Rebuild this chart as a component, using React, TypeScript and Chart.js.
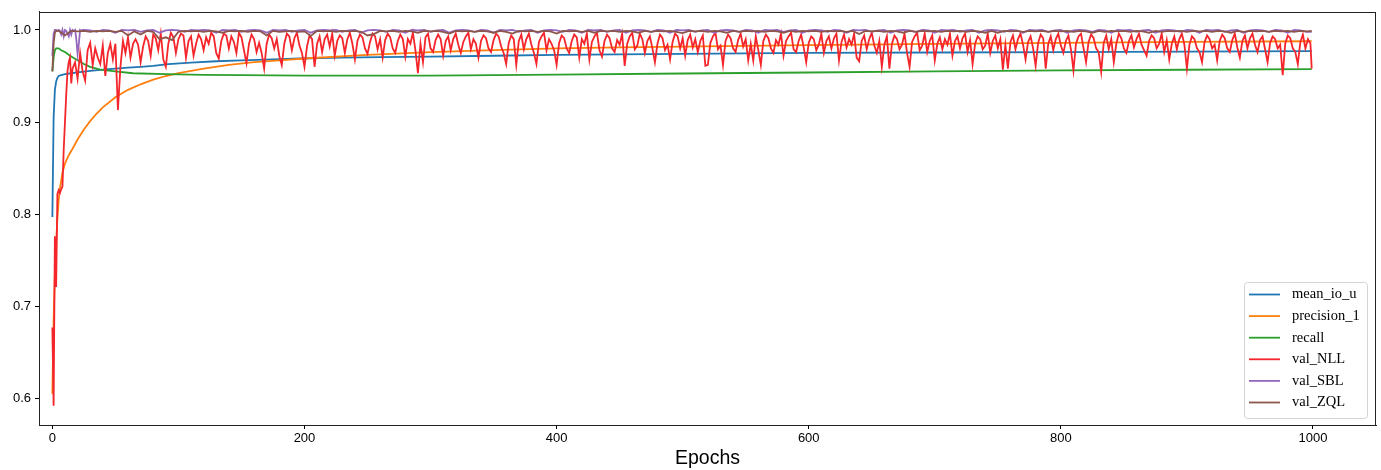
import { useEffect, useRef } from 'react';
import { Chart, registerables } from 'chart.js';

Chart.register(...registerables);

// ---------- labels / ticks ----------
const seriesNames = ['mean_io_u', 'precision_1', 'recall', 'val_NLL', 'val_SBL', 'val_ZQL'];
const seriesColors = ['#1f77b4', '#ff7f0e', '#2ca02c', '#f4262b', '#9467bd', '#8c564b'];
const xTicks = [0, 200, 400, 600, 800, 1000];
const yTicks = [0.6, 0.7, 0.8, 0.9, 1.0];
const xTitle = 'Epochs';

// ---------- mean_io_u ----------
const iouEpochs = [0, 1, 2, 3, 4, 5, 7, 10, 15, 20, 30, 40, 50, 60, 70, 80, 92, 110, 130, 150, 175, 196, 230, 260, 300, 350, 400, 450, 500, 550, 600, 700, 800, 900, 999];
const iouValues = [0.797, 0.905, 0.935, 0.944, 0.948, 0.950, 0.951, 0.952, 0.953, 0.954, 0.9555, 0.957, 0.958, 0.959, 0.960, 0.961, 0.963, 0.9645, 0.966, 0.967, 0.968, 0.969, 0.970, 0.9705, 0.971, 0.972, 0.973, 0.9735, 0.974, 0.9745, 0.975, 0.9755, 0.976, 0.9765, 0.977];

// ---------- precision_1 ----------
const precEpochs = [0, 1, 2, 3, 4, 5, 6, 8, 10, 13, 16, 20, 25, 30, 35, 40, 50, 60, 70, 80, 90, 100, 120, 140, 160, 180, 200, 250, 300, 350, 400, 450, 500, 600, 700, 800, 900, 999];
const precValues = [0.605, 0.685, 0.735, 0.77, 0.795, 0.815, 0.828, 0.845, 0.855, 0.864, 0.871, 0.881, 0.892, 0.901, 0.909, 0.916, 0.927, 0.935, 0.941, 0.946, 0.950, 0.953, 0.958, 0.962, 0.965, 0.967, 0.969, 0.973, 0.976, 0.978, 0.980, 0.981, 0.982, 0.9835, 0.9848, 0.986, 0.987, 0.9877];

// ---------- recall ----------
const recallEpochs = [0, 1, 2, 3, 5, 7, 10, 14, 20, 25, 30, 38, 50, 64, 90, 120, 150, 200, 250, 300, 400, 500, 600, 700, 800, 900, 999];
const recallValues = [0.955, 0.970, 0.978, 0.980, 0.980, 0.978, 0.976, 0.972, 0.967, 0.963, 0.960, 0.957, 0.955, 0.953, 0.952, 0.9513, 0.951, 0.9505, 0.9503, 0.9505, 0.9515, 0.9527, 0.9538, 0.955, 0.956, 0.9568, 0.9575];

// ---------- val_NLL ----------
const nllEarlyEpochs = [0, 1, 2, 3, 4, 5, 6, 7, 8, 9, 10, 11, 12, 13, 14, 15];
const nllEarly = [0.677, 0.592, 0.776, 0.721, 0.822, 0.826, 0.823, 0.827, 0.83, 0.87, 0.90, 0.93, 0.955, 0.965, 0.970, 0.942];
const nllStart = 16;
const nllStep = 2;
const nllValues = [
  .958, .965, .947, .975, .955, .945, .978, .986, .962, .980, .970, .963, .983, .950, .975, .985, .968, .985, .913, .960, .988, .975, .992, .970, .985,
  .990, .984, .965, .982, .993, .988, .972, .995, .991, .978, .996, .968, .960, .985, .997, .992, .975, .990, .996, .994, .970, .988, .993, .972, .985,
  .995, .990, .978, .992, .985, .997, .993, .975, .969, .988, .996, .994, .980, .993, .987, .975, .997, .992, .978, .964, .985, .995, .990, .976, .986,
  .975, .958, .985, .995, .991, .980, .990, .972, .962, .985, .996, .993, .978, .991, .997, .983, .975, .960, .982, .994, .990, .960, .985, .993, .976,
  .990, .995, .982, .996, .972, .988, .994, .991, .975, .990, .997, .985, .968, .988, .995, .992, .980, .974, .987, .996, .993, .979, .990, .970, .989,
  .996, .992, .980, .975, .988, .995, .990, .971, .990, .985, .997, .978, .953, .985, .965, .992, .996, .980, .976, .989, .995, .990, .972, .988, .993,
  .978, .990, .996, .984, .975, .987, .993, .997, .979, .990, .985, .970, .988, .994, .991, .980, .976, .989, .996, .993, .982, .975, .963, .986, .994,
  .990, .962, .988, .995, .979, .990, .996, .984, .975, .963, .987, .993, .997, .978, .990, .985, .978, .962, .986, .994, .991, .980, .975, .988, .995,
  .992, .970, .990, .985, .996, .968, .987, .993, .997, .978, .971, .988, .995, .991, .980, .976, .989, .984, .996, .961, .985, .993, .997, .979, .983,
  .996, .990, .975, .988, .993, .980, .965, .985, .995, .991, .978, .984, .968, .987, .996, .993, .980, .991, .972, .989, .995, .981, .990, .976, .988,
  .994, .961, .962, .986, .993, .997, .979, .983, .962, .988, .995, .991, .980, .976, .989, .996, .982, .990, .967, .985, .967, .993, .978, .962, .988,
  .995, .991, .980, .975, .989, .984, .996, .972, .988, .993, .997, .979, .976, .988, .995, .981, .965, .986, .993, .990, .978, .984, .996, .975, .988,
  .993, .980, .991, .996, .967, .987, .995, .981, .990, .984, .996, .970, .966, .988, .994, .979, .990, .997, .983, .975, .988, .960, .984, .993, .958,
  .985, .994, .990, .979, .984, .996, .975, .960, .987, .993, .997, .978, .983, .996, .976, .988, .994, .967, .985, .992, .979, .990, .984, .996, .972,
  .988, .993, .980, .991, .996, .976, .989, .963, .985, .993, .990, .979, .983, .996, .975, .988, .994, .980, .990, .957, .984, .958, .987, .994, .979,
  .990, .996, .984, .968, .987, .993, .980, .961, .986, .995, .991, .958, .985, .993, .978, .990, .996, .983, .975, .988, .994, .979, .956, .985, .993,
  .996, .980, .965, .987, .995, .991, .980, .976, .9545, .986, .994, .979, .990, .965, .985, .996, .991, .980, .975, .988, .994, .981, .990, .996, .984,
  .978, .972, .988, .994, .991, .980, .985, .996, .976, .989, .968, .985, .993, .979, .990, .996, .984, .958, .984, .993, .990, .980, .976, .965, .987,
  .994, .990, .980, .984, .967, .988, .995, .991, .980, .976, .989, .996, .981, .970, .988, .994, .980, .991, .996, .984, .976, .989, .993, .979, .965,
  .986, .993, .990, .980, .984, .951, .985, .994, .991, .980, .976, .963, .987, .995, .980, .990, .985,
];
const nllFinalEpoch = 999;
const nllFinal = 0.958;

// ---------- val_SBL ----------
const sblEarlyEpochs = [0, 1, 2, 3, 4, 5, 6, 7, 8, 9, 10, 11, 12, 13, 14, 15, 16, 17, 18, 19, 20, 21, 22, 23, 24];
const sblEarly = [0.972, 0.996, 1.0, 1.0, 0.999, 1.0, 0.999, 0.995, 1.0, 0.993, 1.0, 0.999, 0.996, 0.993, 1.0, 0.995, 1.0, 0.999, 1.0, 0.99, 0.974, 0.985, 1.0, 0.999, 1.0];
const sblStart = 25;
const sblStep = 5;
const sblValues = [
  1.0, .9995, .998, 1.0, .9995, .997, 1.0, .9995, 1.0, .998, .9995, 1.0, .997, .9995, 1.0, .9995, .998, 1.0, .9995, 1.0,
  .9995, .997, 1.0, .9995, 1.0, .998, .9995, 1.0, .9995, .997, 1.0, .9995, 1.0, .998, .9995, 1.0, .997, .9995, 1.0, .9995,
  1.0, .998, .9995, 1.0, .997, .9995, 1.0, .9995, .998, 1.0, .9995, .997, 1.0, .9995, 1.0, .998, .9995, 1.0, .997, .9995,
  1.0, .9995, .998, 1.0, .9995, .997, 1.0, .9995, 1.0, .998, .9995, 1.0, .997, .9995, 1.0, .9995, .998, 1.0, .9995, .997,
  1.0, .9995, 1.0, .998, .9995, 1.0, .997, .9995, 1.0, .9995, .998, 1.0, .9995, .997, 1.0, .9995, 1.0, .998, .9995, 1.0,
  .997, .9995, 1.0, .9995, .998, 1.0, .9995, .997, 1.0, .9995, 1.0, .998, .9995, 1.0, .997, .9995, 1.0, .9995, .998, 1.0,
  .9995, .997, 1.0, .9995, 1.0, .998, .9995, 1.0, .997, .9995, 1.0, .9995, .998, 1.0, .9995, .997, 1.0, .9995, 1.0, .998,
  .9995, 1.0, .997, .9995, 1.0, .9995, .998, 1.0, .9995, .997, 1.0, .9995, 1.0, .998, .9995, 1.0, .997, .9995, 1.0, .9995,
  .998, 1.0, .9995, .997, 1.0, .9995, 1.0, .998, .9995, 1.0, .997, .9995, 1.0, .9995, .998, 1.0, .9995, .997, 1.0, .9995,
  1.0, .998, .9995, 1.0, .997, .9995, 1.0, .9995, .998, 1.0, .9995, .997, 1.0, .9995, .998,
];
const sblFinalEpoch = 999;
const sblFinal = 0.998;

// ---------- val_ZQL ----------
const zqlEarlyEpochs = [0, 1, 2, 3];
const zqlEarly = [0.955, 0.985, 0.997, 0.999];
const zqlStart = 5;
const zqlStep = 5;
const zqlValues = [
  .999, .994, .999, .9985, .999, .998, .999, .9985, .999, .998, .999, .994, .9985, .995, .999, .998, .990, .992, .989, .998,
  .999, .9985, .999, .998, .999, .9985, .997, .999, .9985, .999, .998, .999, .9985, .994, .999, .998, .9985, .999, .998, .9985,
  .9935, .999, .9985, .999, .998, .999, .9985, .999, .998, .994, .9955, .999, .9985, .999, .998, .999, .9985, .997, .999, .9985,
  .999, .998, .996, .999, .9985, .999, .998, .999, .9985, .997, .999, .998, .996, .999, .9985, .999, .998, .999, .9985, .996,
  .999, .9985, .999, .998, .999, .997, .999, .9985, .999, .998, .999, .9985, .997, .999, .998, .999, .9985, .999, .998, .9965,
  .999, .9985, .999, .998, .999, .9985, .997, .999, .998, .999, .9985, .999, .998, .999, .9985, .997, .999, .998, .999, .9985,
  .999, .998, .999, .9985, .999, .998, .999, .9955, .999, .9985, .999, .998, .999, .9985, .997, .999, .998, .999, .9985, .999,
  .998, .999, .9985, .999, .998, .999, .9985, .997, .999, .997, .999, .9985, .999, .998, .999, .9985, .999, .998, .999, .9985,
  .999, .998, .999, .9985, .997, .999, .998, .999, .9985, .999, .998, .999, .9985, .997, .999, .998, .999, .9985, .999, .998,
  .999, .9985, .999, .998, .999, .9985, .997, .999, .998, .999, .9985, .999, .998, .999, .9985, .999, .998, .999, .9985,
];
const zqlFinalEpoch = 999;
const zqlFinal = 0.999;

// ---------- helpers ----------
const stepped = (start: number, step: number, n: number) => Array.from({ length: n }, (_, i) => start + i * step);
const pair = (xs: number[], ys: number[]) => xs.map((x, i) => ({ x, y: ys[i] }));

const seriesPoints = [
  pair(iouEpochs, iouValues),
  pair(precEpochs, precValues),
  pair(recallEpochs, recallValues),
  pair([...nllEarlyEpochs, ...stepped(nllStart, nllStep, nllValues.length), nllFinalEpoch], [...nllEarly, ...nllValues, nllFinal]),
  pair([...sblEarlyEpochs, ...stepped(sblStart, sblStep, sblValues.length), sblFinalEpoch], [...sblEarly, ...sblValues, sblFinal]),
  pair([...zqlEarlyEpochs, ...stepped(zqlStart, zqlStep, zqlValues.length), zqlFinalEpoch], [...zqlEarly, ...zqlValues, zqlFinal]),
];

const framePlugin = {
  id: 'frame',
  afterDatasetsDraw(chart: any) {
    const { ctx, chartArea } = chart;
    ctx.save();
    ctx.strokeStyle = '#222';
    ctx.lineWidth = 1;
    const l = Math.round(chartArea.left) + 0.5;
    const t = Math.round(chartArea.top) + 0.5;
    const r = Math.round(chartArea.right) - 0.5;
    const b = Math.round(chartArea.bottom) + 0.5;
    ctx.strokeRect(l, t, r - l, b - t);
    ctx.restore();
  },
};

const legendPlugin = {
  id: 'boxLegend',
  afterDraw(chart: any) {
    const { ctx, chartArea } = chart;
    const w = 123;
    const h = 136;
    const x = chartArea.right - 9 - w;
    const y = chartArea.bottom - 7 - h;
    ctx.save();
    ctx.beginPath();
    if (ctx.roundRect) ctx.roundRect(x + 0.5, y + 0.5, w, h, 3);
    else ctx.rect(x + 0.5, y + 0.5, w, h);
    ctx.fillStyle = 'rgba(255,255,255,0.8)';
    ctx.fill();
    ctx.strokeStyle = '#d4d4d4';
    ctx.lineWidth = 1;
    ctx.stroke();
    chart.data.datasets.forEach((ds: any, i: number) => {
      const cy = y + 12.5 + i * 21.6;
      ctx.strokeStyle = ds.borderColor;
      ctx.lineWidth = 1.8;
      ctx.beginPath();
      ctx.moveTo(x + 5, cy);
      ctx.lineTo(x + 36, cy);
      ctx.stroke();
      ctx.fillStyle = '#000';
      ctx.font = '14.5px "Liberation Serif", "Times New Roman", serif';
      ctx.textBaseline = 'middle';
      ctx.textAlign = 'left';
      ctx.fillText(ds.label, x + 48, cy);
    });
    ctx.restore();
  },
};

export default function App() {
  const ref = useRef<HTMLCanvasElement | null>(null);

  useEffect(() => {
    if (!ref.current) return;
    const chart = new Chart(ref.current, {
      type: 'line',
      data: {
        datasets: seriesNames.map((name, i) => ({
          label: name,
          data: seriesPoints[i],
          borderColor: seriesColors[i],
          backgroundColor: seriesColors[i],
          borderWidth: 1.8,
          pointRadius: 0,
          tension: 0,
          fill: false,
          order: seriesNames.length - i,
        })),
      },
      options: {
        responsive: false,
        animation: false,
        devicePixelRatio: 1,
        layout: { padding: { left: 0, top: 11, right: 5, bottom: 0 } },
        plugins: {
          legend: { display: false },
          tooltip: { enabled: false },
          title: { display: false },
        },
        scales: {
          x: {
            type: 'linear',
            min: -10.6,
            max: 1050,
            afterBuildTicks: (scale: any) => {
              scale.ticks = xTicks.map((v) => ({ value: v }));
            },
            afterFit: (scale: any) => {
              scale.height = 45;
            },
            ticks: {
              color: '#000',
              padding: 2,
              maxRotation: 0,
              autoSkip: false,
              font: { family: '"Liberation Sans", Arial, sans-serif', size: 13 },
              callback: (v: any) => String(v),
            },
            grid: { drawOnChartArea: false, drawTicks: true, tickLength: 4, color: '#000' },
            border: { display: true, color: '#222', width: 1 },
            title: {
              display: true,
              text: xTitle,
              color: '#000',
              font: { family: '"Liberation Sans", Arial, sans-serif', size: 19.5 },
              padding: { top: 0, bottom: 0 },
            },
          },
          y: {
            type: 'linear',
            min: 0.5711,
            max: 1.0197,
            afterBuildTicks: (scale: any) => {
              scale.ticks = yTicks.map((v) => ({ value: v }));
            },
            afterFit: (scale: any) => {
              scale.width = 39;
            },
            ticks: {
              color: '#000',
              padding: 4,
              autoSkip: false,
              font: { family: '"Liberation Sans", Arial, sans-serif', size: 13 },
              callback: (v: any) => Number(v).toFixed(1),
            },
            grid: { drawOnChartArea: false, drawTicks: true, tickLength: 4, color: '#000' },
            border: { display: true, color: '#222', width: 1 },
          },
        },
      },
      plugins: [framePlugin, legendPlugin],
    });
    return () => chart.destroy();
  }, []);

  return (
    <div style={{ position: 'absolute', left: 0, top: 0, width: 1381, height: 470, background: '#fff' }}>
      <canvas ref={ref} width={1381} height={470} style={{ display: 'block', width: 1381, height: 470 }} />
    </div>
  );
}
